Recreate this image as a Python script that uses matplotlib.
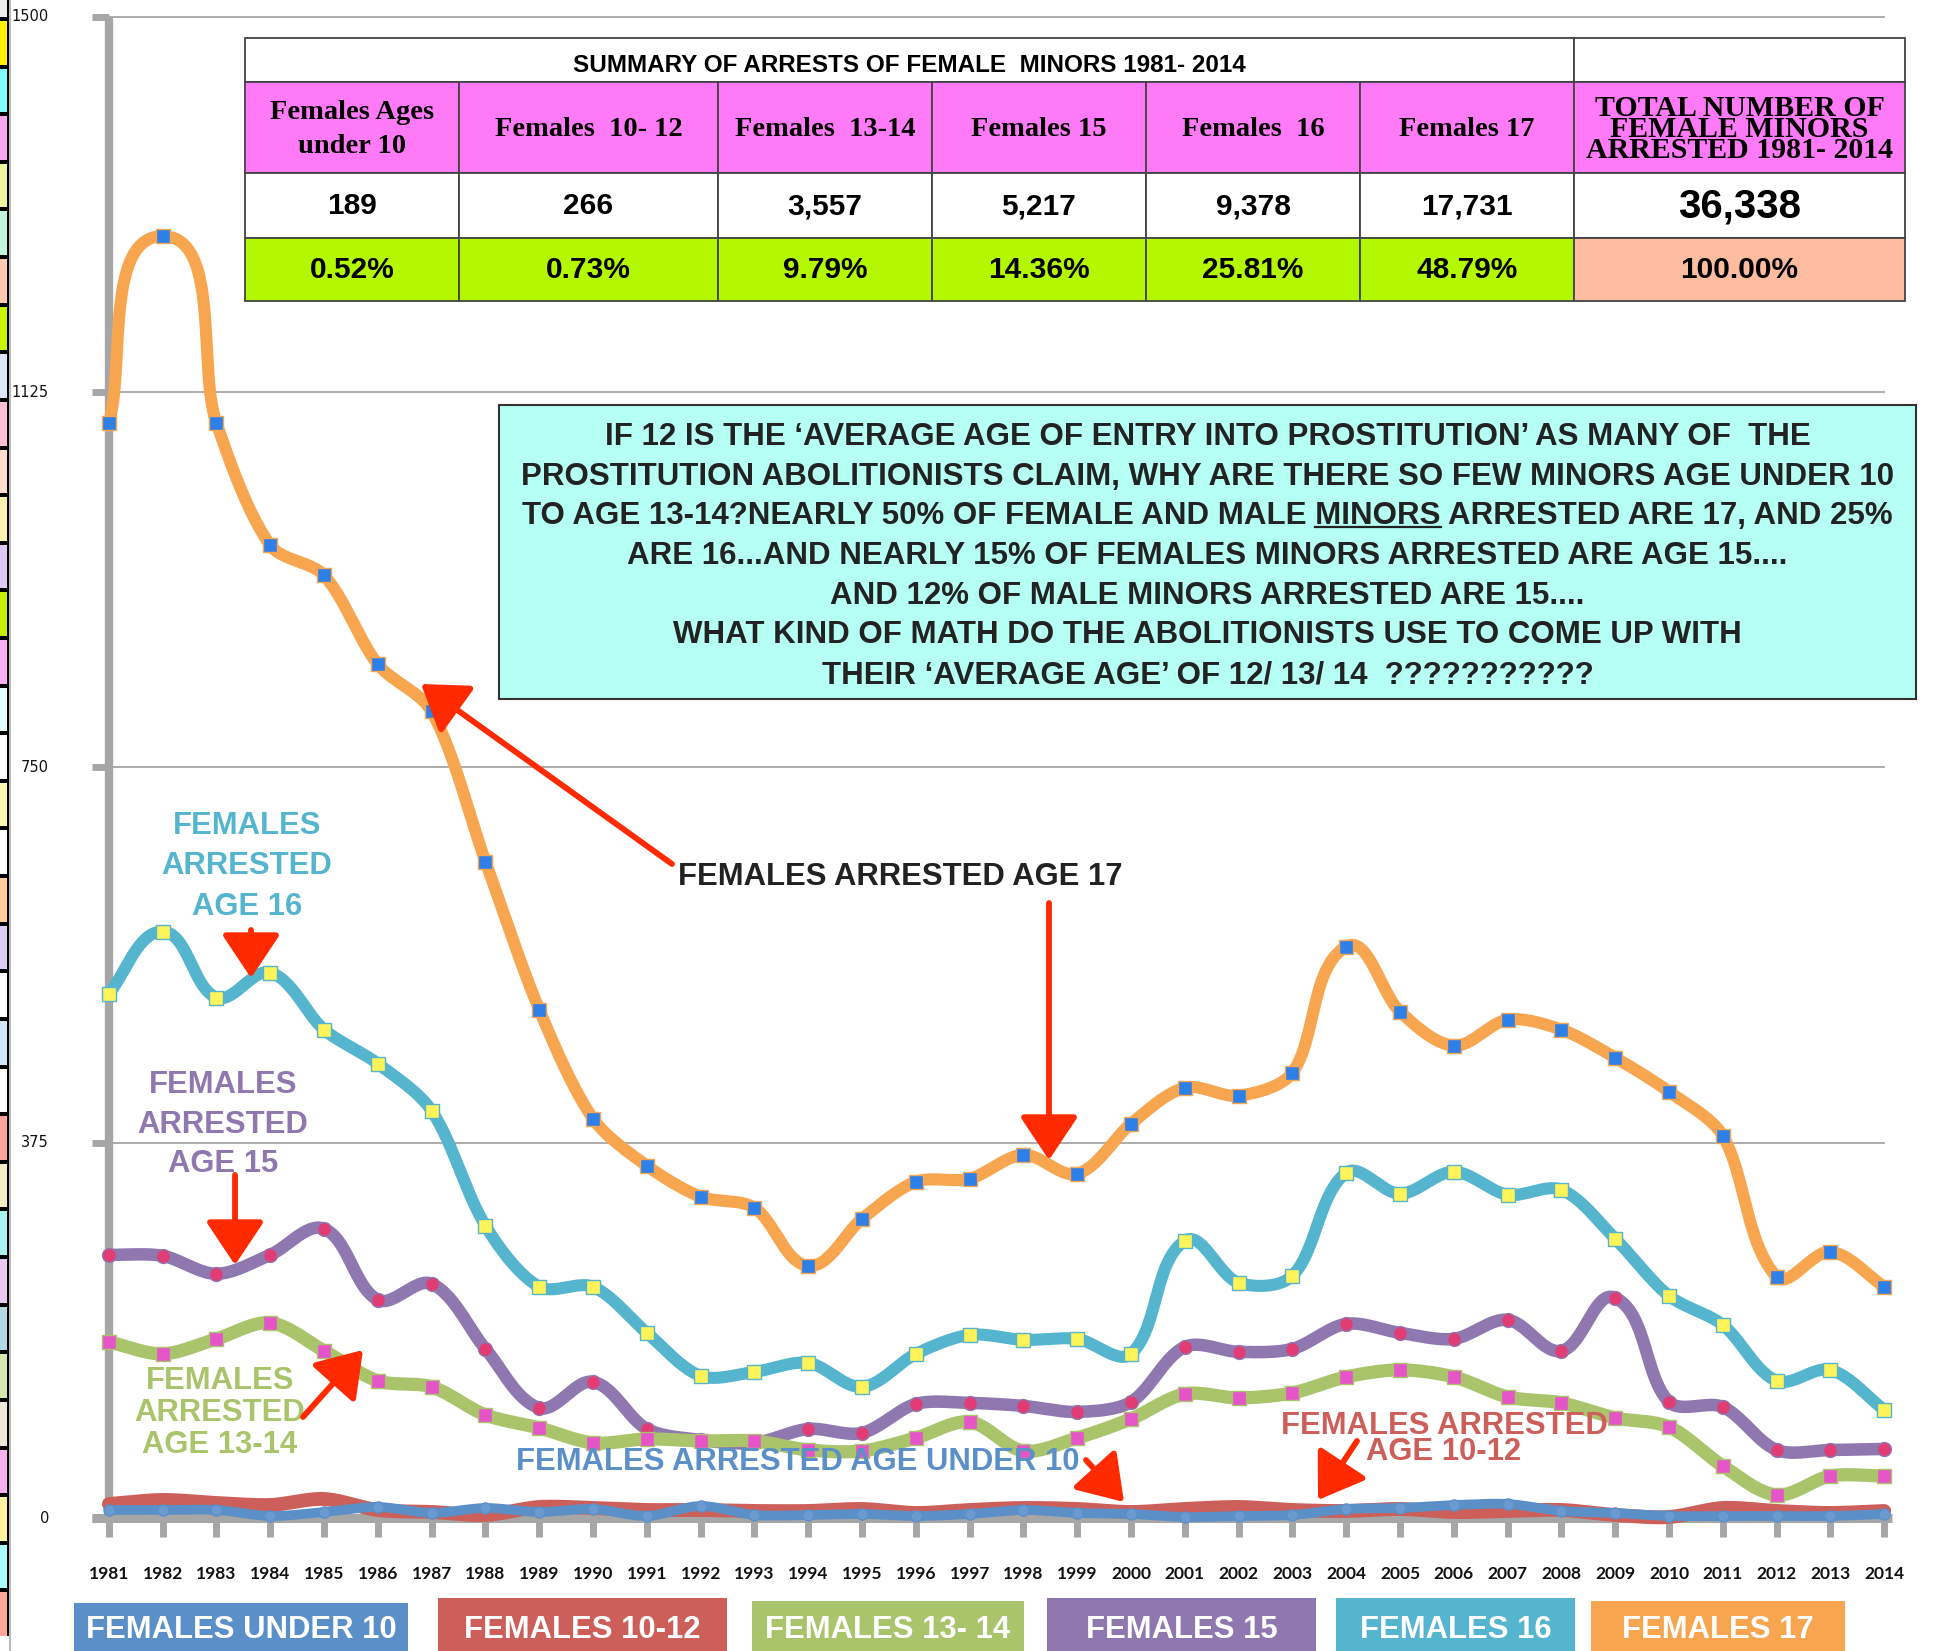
import numpy as np
import matplotlib
matplotlib.use("Agg")
import matplotlib.pyplot as plt
from matplotlib.patches import Rectangle, FancyArrowPatch

# ---------------- data ----------------
years = list(range(1981, 2015))
females_under_10 = [8, 8, 8, 2, 6, 11, 5, 10, 6, 9, 2, 12, 3,
                    3, 4, 2, 4, 8, 5, 4, 1,
                    2, 3, 9, 10, 13, 14, 7, 5, 2, 2, 2, 2, 4]
females_10_12 = [14, 18, 15, 13, 19, 8, 6, 3, 11, 10, 8, 8, 7,
                 7, 9, 5, 8, 10, 9, 6, 9,
                 11, 8, 7, 9, 6, 7, 8, 3, 1, 10, 7, 5, 7]
females_13_14 = [176, 164, 179, 195, 167, 137, 131, 103, 90, 75, 79, 77, 77, 68, 67, 80, 96,
                 67, 80, 99, 124, 120, 125, 141, 148, 141, 121, 115, 100, 91, 52, 23, 42, 42]
females_15 = [263, 262, 244, 263, 289, 218, 234, 169, 110, 136, 89, 78, 75, 89, 85, 114, 115,
              112, 106, 116, 171, 166, 169, 194, 185, 179, 198, 167, 220, 116, 111, 68, 68, 69]
females_16 = [524, 586, 520, 545, 488, 454, 407, 292, 231, 231, 185, 142, 146, 155, 131, 164, 183,
              178, 179, 164, 277, 235, 242, 345, 324, 346, 323, 328, 279, 222, 193, 137, 148, 108]
females_17 = [1094, 1281, 1094, 972, 942, 853, 806, 656, 508, 399, 352, 321, 310, 252, 299, 336, 339,
              363, 344, 394, 430, 422, 445, 571, 506, 472, 498, 488, 460, 426, 382, 241, 266, 231]

y_ticks = [0, 375, 750, 1125, 1500]
y_tick_labels = ["0", "375", "750", "1125", "1500"]

table_title = "SUMMARY OF ARRESTS OF FEMALE  MINORS 1981- 2014"
table_headers = ["Females Ages\nunder 10", "Females  10- 12", "Females  13-14", "Females 15",
                 "Females  16", "Females 17", "TOTAL NUMBER OF\nFEMALE MINORS\nARRESTED 1981- 2014"]
table_counts = ["189", "266", "3,557", "5,217", "9,378", "17,731", "36,338"]
table_pcts = ["0.52%", "0.73%", "9.79%", "14.36%", "25.81%", "48.79%", "100.00%"]

note_lines = [
    "IF 12 IS THE \u2018AVERAGE AGE OF ENTRY INTO PROSTITUTION\u2019 AS MANY OF  THE",
    "PROSTITUTION ABOLITIONISTS CLAIM, WHY ARE THERE SO FEW MINORS AGE UNDER 10",
    "TO AGE 13-14?NEARLY 50% OF FEMALE AND MALE MINORS ARRESTED ARE 17, AND 25%",
    "ARE 16...AND NEARLY 15% OF FEMALES MINORS ARRESTED ARE AGE 15....",
    "AND 12% OF MALE MINORS ARRESTED ARE 15....",
    "WHAT KIND OF MATH DO THE ABOLITIONISTS USE TO COME UP WITH",
    "THEIR \u2018AVERAGE AGE\u2019 OF 12/ 13/ 14  ???????????",
]
legend_labels = ["FEMALES UNDER 10", "FEMALES 10-12", "FEMALES 13- 14",
                 "FEMALES 15", "FEMALES 16", "FEMALES 17"]

# ---------------- styles ----------------
C_BLUE = "#5B8FC7"
C_RED = "#CD5F5A"
C_GREEN = "#A9C46A"
C_PURPLE = "#8F77AF"
C_CYAN = "#55B5CF"
C_ORANGE = "#F8A550"
GREY = "#A6A6A6"
ARROW = "#FF2A00"
SANS = ["Liberation Sans", "DejaVu Sans"]
SERIF = ["Liberation Serif", "DejaVu Serif"]

strip_colors = ["#EDEDED", "#FFF200", "#80FFFF", "#F8A8F0", "#EEF7A0", "#C2F5DD", "#FFCAB0",
                "#CCF200", "#DEE6FA", "#FFC0D4", "#FFDCCB", "#FFF2B0", "#DCCAF5", "#C6F000",
                "#F8B0F2", "#E2FFFC", "#FFFFFF", "#FAF8B0", "#FFFFFF", "#FFCC99", "#DCCCF4",
                "#FFFFFF", "#CFE6F8", "#FFFFFF", "#FFA49A", "#F7EBC6", "#AAF2F2", "#EBC8F2",
                "#B4D8E6", "#D4E8B0", "#EFE8D8", "#F7B0F0", "#FFF3A0", "#A8FCFC", "#FFA898"]

W, H = 1940, 1651
fig = plt.figure(figsize=(W / 100, H / 100), dpi=100)
fig.patch.set_facecolor("white")

# main data axes covering the whole figure
X0PX, DXPX = 108.9, 53.797
Y0PX, KY = 1518.0, 1.0007
ax = fig.add_axes([0, 0, 1, 1])
ax.set_xlim(1981 - X0PX / DXPX, 1981 + (W - X0PX) / DXPX)
ax.set_ylim(-(H - Y0PX) / KY, Y0PX / KY)
ax.axis("off")


def xd(px):
    return 1981 + (px - X0PX) / DXPX


def smooth(x, y, n=30, s=0.3):
    """Spreadsheet-style smoothed line: cubic Bezier segments in screen space,
    with tangent legs proportional to each segment's length."""
    P = np.column_stack([np.asarray(x, float) * DXPX, np.asarray(y, float) * KY])
    N = len(P)
    pts = []
    t = np.linspace(0, 1, n, endpoint=False)[:, None]
    for i in range(N - 1):
        p0 = P[i - 1] if i > 0 else P[i]
        p1, p2 = P[i], P[i + 1]
        p3 = P[i + 2] if i + 2 < N else P[i + 1]
        d = np.linalg.norm(p2 - p1)
        t1 = p2 - p0
        t1 = t1 / np.linalg.norm(t1)
        t2 = p3 - p1
        t2 = t2 / np.linalg.norm(t2)
        c1 = p1 + t1 * d * s
        c2 = p2 - t2 * d * s
        pts.append((1 - t) ** 3 * p1 + 3 * (1 - t) ** 2 * t * c1 + 3 * (1 - t) * t ** 2 * c2 + t ** 3 * p2)
    pts.append(P[-1:])
    Q = np.vstack(pts)
    return Q[:, 0] / DXPX, Q[:, 1] / KY


# ---------------- axes frame ----------------
for v in y_ticks[1:]:
    ax.plot([1981, 2014], [v, v], color=GREY, lw=1.3, zorder=1)
for v in y_ticks:
    ax.plot([xd(92), 1981], [v, v], color=GREY, lw=5, solid_capstyle="butt", zorder=1)
ax.plot([1981, 1981], [-4, 1500], color=GREY, lw=6, solid_capstyle="butt", zorder=1)
ax.plot([xd(92), xd(1892)], [0, 0], color=GREY, lw=6.5, solid_capstyle="butt", zorder=1)
for yr in years:
    ax.plot([yr, yr], [0, -19], color=GREY, lw=5, solid_capstyle="butt", zorder=1)
for v, lab in zip(y_ticks, y_tick_labels):
    ax.text(xd(49), v, lab, ha="right", va="center", fontsize=10.5,
            family=["DejaVu Sans"], color="#111111")
for yr in years:
    ax.text(yr, -56, str(yr), ha="center", va="center", fontsize=12.5,
            family=["Lato", "DejaVu Sans"], fontweight="bold", color="#111111")

# ---------------- series ----------------
series = [
    (females_17, C_ORANGE, 8.7, "s", "#2F7FE8", C_ORANGE, 9.5, 3),
    (females_16, C_CYAN, 8.7, "s", "#FFF35A", C_CYAN, 10, 4),
    (females_15, C_PURPLE, 9.0, "o", "#E23C74", C_PURPLE, 10, 5),
    (females_13_14, C_GREEN, 9.5, "s", "#E655C8", C_GREEN, 9.5, 6),
    (females_10_12, C_RED, 10.0, None, None, None, 0, 7),
    (females_under_10, C_BLUE, 7.0, "o", "#6A9AD0", C_BLUE, 8, 8),
]
for vals, col, lw, mk, mfc, mec, ms, z in series:
    sx, sy = smooth(years, vals)
    ax.plot(sx, sy, color=col, lw=lw, solid_capstyle="round", solid_joinstyle="round", zorder=z)
    if mk:
        ax.plot(years, vals, ls="none", marker=mk, markersize=ms, markerfacecolor=mfc,
                markeredgecolor=mec, markeredgewidth=1.0, zorder=z + 0.5)

# ---------------- overlay in pixel coords ----------------
ov = fig.add_axes([0, 0, 1, 1])
ov.set_xlim(0, W)
ov.set_ylim(H, 0)
ov.axis("off")
ov.patch.set_visible(False)

# left decorative strip
ov.add_patch(Rectangle((0, 0), 9, 1636, facecolor="black", edgecolor="none"))
ov.add_patch(Rectangle((9, 0), 1.6, H, facecolor="#BBBBBB", edgecolor="none"))
ov.add_patch(Rectangle((0, 0), 7, 17, facecolor=strip_colors[0], edgecolor="none"))
pitch = (1636 - 17) / (len(strip_colors) - 1)
for i, c in enumerate(strip_colors[1:]):
    top = 17 + i * pitch + 4
    ov.add_patch(Rectangle((0, top), 7, pitch - 4, facecolor=c, edgecolor="none"))

# table
cols = [245, 459, 718, 932, 1146, 1360, 1574, 1905]
rows = [38, 82, 173, 238, 301]
EC = "#444444"
ov.add_patch(Rectangle((cols[0], rows[0]), cols[6] - cols[0], rows[1] - rows[0],
                       facecolor="white", edgecolor=EC, lw=1.3))
ov.add_patch(Rectangle((cols[6], rows[0]), cols[7] - cols[6], rows[1] - rows[0],
                       facecolor="white", edgecolor=EC, lw=1.3))
ov.text((cols[0] + cols[6]) / 2, 66, table_title, ha="center", va="center", fontsize=17.5,
        family=SANS, fontweight="bold", color="black")
for i in range(7):
    x0, x1 = cols[i], cols[i + 1]
    cx = (x0 + x1) / 2
    ov.add_patch(Rectangle((x0, rows[1]), x1 - x0, rows[2] - rows[1], facecolor="#FF7AF6",
                           edgecolor=EC, lw=1.3))
    ov.add_patch(Rectangle((x0, rows[2]), x1 - x0, rows[3] - rows[2], facecolor="white",
                           edgecolor=EC, lw=1.3))
    ov.add_patch(Rectangle((x0, rows[3]), x1 - x0, rows[4] - rows[3],
                           facecolor="#FDBBA0" if i == 6 else "#B3F800", edgecolor=EC, lw=1.3))
    if i == 6:
        ov.text(cx, (rows[1] + rows[2]) / 2 + 2, table_headers[i], ha="center", va="center",
                fontsize=21.5, family=SERIF, fontweight="bold", linespacing=0.72)
    else:
        ov.text(cx, (rows[1] + rows[2]) / 2 + 2, table_headers[i], ha="center", va="center",
                fontsize=20.5, family=SERIF, fontweight="bold", linespacing=1.5)
    ov.text(cx, (rows[2] + rows[3]) / 2 + 1, table_counts[i], ha="center", va="center",
            fontsize=29 if i == 6 else 21.5, family=SANS, fontweight="bold")
    ov.text(cx, (rows[3] + rows[4]) / 2 + 1, table_pcts[i], ha="center", va="center",
            fontsize=21.5, family=SANS, fontweight="bold")

# note box
ov.add_patch(Rectangle((499, 405), 1916 - 499, 699 - 405, facecolor="#B5FFF4",
                       edgecolor="#333333", lw=1.5))
note_y = [434, 474, 513, 553, 593, 632, 673]
note_kw = dict(ha="center", va="baseline", fontsize=22.5, family=SANS, fontweight="bold",
               color="#222222")
note_texts = []
for s, yc in zip(note_lines, note_y):
    note_texts.append(ov.text(1207.5, yc + 11, s, **note_kw))

# chart labels
lab_kw = dict(ha="center", va="center", fontsize=22.3, family=SANS, fontweight="bold")
for s, yc in zip(["FEMALES", "ARRESTED", "AGE 16"], [826, 866, 907]):
    ov.text(247, yc, s, color=C_CYAN, **lab_kw)
for s, yc in zip(["FEMALES", "ARRESTED", "AGE 15"], [1085, 1125, 1164]):
    ov.text(223, yc, s, color=C_PURPLE, **lab_kw)
for s, yc in zip(["FEMALES", "ARRESTED", "AGE 13-14"], [1381, 1413, 1445]):
    ov.text(220, yc, s, color=C_GREEN, **lab_kw)
ov.text(798, 1462, "FEMALES ARRESTED AGE UNDER 10", color=C_BLUE, zorder=20, **lab_kw)
ov.text(1444, 1439, "FEMALES ARRESTED\nAGE 10-12", color=C_RED, multialignment="center",
        linespacing=0.82, **lab_kw)
ov.text(900, 877, "FEMALES ARRESTED AGE 17", color="#222222", **lab_kw)

# arrows
arrows = [((672, 864), (421, 684)), ((1049, 903), (1049, 1160)), ((251, 930), (251, 978)),
          ((235, 1175), (235, 1265)), ((303, 1417), (363, 1350)), ((1086, 1460), (1124, 1502)),
          ((1357, 1441), (1318, 1500))]
for a, b in arrows:
    ov.add_patch(FancyArrowPatch(a, b, arrowstyle="-|>,head_length=0.9,head_width=0.6",
                                 mutation_scale=30, lw=4.2, color=ARROW, shrinkA=0, shrinkB=0,
                                 zorder=15))

# legend boxes
legend_boxes = [(74, 408, 1603, C_BLUE), (438, 727, 1598, C_RED), (752, 1024, 1601, C_GREEN),
                (1047, 1316, 1598, C_PURPLE), (1336, 1575, 1598, C_CYAN), (1591, 1845, 1601, C_ORANGE)]
for (x0, x1, y0, c), lab in zip(legend_boxes, legend_labels):
    ov.add_patch(Rectangle((x0, y0), x1 - x0, H - y0 + 2, facecolor=c, edgecolor="none"))
    ov.text((x0 + x1) / 2, 1630, lab, ha="center", va="center", fontsize=22.3, family=SANS,
            fontweight="bold", color="white")

# underline MINORS in note line 3
fig.canvas.draw()
r = fig.canvas.get_renderer()
bb = note_texts[2].get_window_extent(r)


def twidth(s):
    tt = ov.text(0, 0, s, **note_kw)
    w = tt.get_window_extent(r).width
    tt.remove()
    return w


prefix = "TO AGE 13-14?NEARLY 50% OF FEMALE AND MALE MINORS"
w_end = twidth(prefix)
w_word = twidth("MINORS")
xe = bb.x0 + w_end
xs = xe - w_word
yl = note_y[2] + 11 + 3.5
ov.plot([xs, xe], [yl, yl], color="#222222", lw=1.6)

fig.savefig("out.png", dpi=100, facecolor="white")
